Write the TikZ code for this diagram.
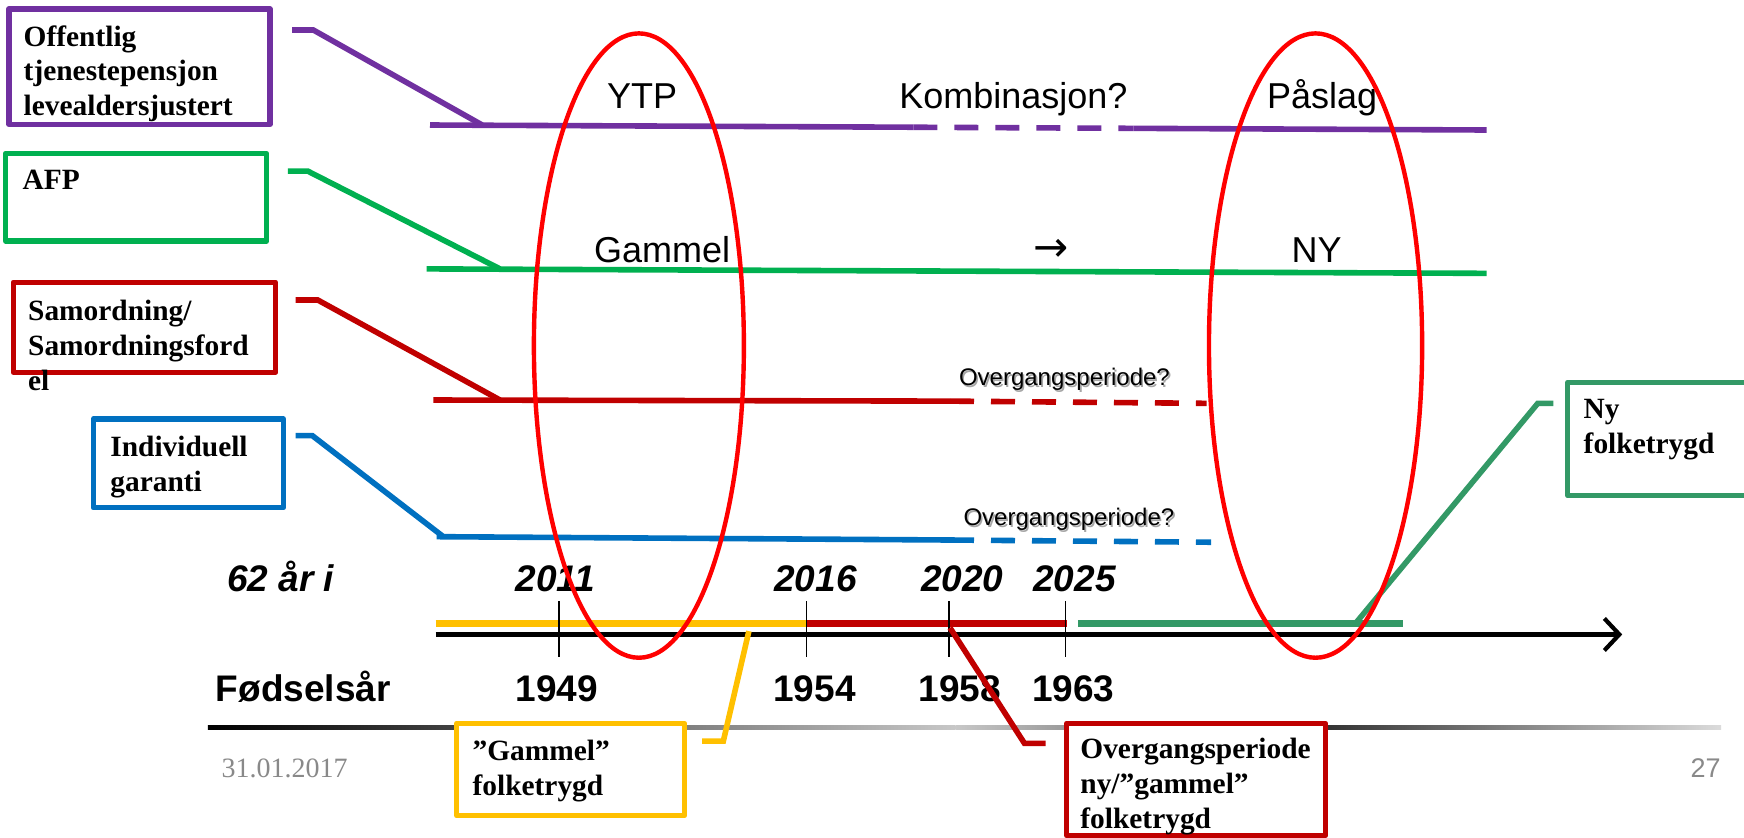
\documentclass[tikz,border=0pt]{standalone}
\usepackage{fontspec}
\setmainfont{Liberation Serif}
\setsansfont{Liberation Sans}
\newfontfamily\arrowfont{DejaVu Sans}
\usetikzlibrary{arrows.meta}
\definecolor{cpurple}{HTML}{7030A0}
\definecolor{cgreen}{HTML}{00B050}
\definecolor{cdred}{HTML}{C00000}
\definecolor{cblue}{HTML}{0070C0}
\definecolor{cyellow}{HTML}{FFC000}
\definecolor{csea}{HTML}{339966}
\definecolor{cellipse}{HTML}{FF0000}
\definecolor{cfoot}{HTML}{898989}
\begin{document}
\begin{tikzpicture}[x=0.5556pt,y=-0.5556pt,
  boxline/.style={line width=2.7pt, fill=white, line join=round},
  conn/.style={line width=2.8pt},
  dashline/.style={line width=2.8pt, dash pattern=on 12pt off 8.5pt},
  boxtext/.style={font=\bfseries\fontsize{14.7}{17.4}\selectfont, align=left, inner sep=0pt, anchor=north west},
  rowlbl/.style={font=\sffamily\fontsize{18}{20}\selectfont, inner sep=0pt, anchor=base},
  smalllbl/.style={font=\sffamily\fontsize{12}{14}\selectfont, inner sep=0pt, anchor=base},
  axislbl/.style={font=\sffamily\bfseries\fontsize{18.5}{20}\selectfont, inner sep=0pt, anchor=base},
  yearlbl/.style={font=\sffamily\bfseries\itshape\fontsize{18.5}{20}\selectfont, inner sep=0pt, anchor=base},
  ring/.style={draw=cellipse, line width=2.2pt},
  tickline/.style={line width=0.8pt},
  bar/.style={line width=3.6pt},
]
\useasboundingbox (0,0) rectangle (1569.6,753.4);
\clip (0,0) rectangle (1569.6,753.4);

% footer gradient line
\shade[left color=black, right color=black!22] (187,653.3) rectangle (860,656.7);
\shade[left color=black!22, right color=black!80] (860,653.3) rectangle (1193,656.7);
\shade[left color=black!80, right color=black!14] (1193,653.3) rectangle (1549,656.7);

% ---------- purple row ----------
\draw[boxline, draw=cpurple] (8,8) rectangle (243,112);
\node[boxtext] (tOff) at (21,22.5) {Offentlig\\tjenestepensjon\\levealdersjustert};
\coordinate (pa) at (263,27); \coordinate (pb) at (282,27); \coordinate (pc) at (434,112.5);
\draw[conn, cpurple] (pa) -- (pb) -- (pc);
\coordinate (pl0) at (387,112.5); \coordinate (pl1) at (822,114.5);
\coordinate (pl2) at (1020,115.5); \coordinate (pl3) at (1338,117);
\draw[conn, cpurple] (pl0) -- (pl1);
\draw[dashline, cpurple] (pl1) -- (pl2);
\draw[conn, cpurple] (pl2) -- (pl3);
\node[rowlbl] (ytp) at (578,98) {YTP};
\node[rowlbl] (komb) at (912,98) {Kombinasjon?};
\node[rowlbl] (paslag) at (1190,98) {Påslag};

% ---------- green AFP row ----------
\draw[boxline, draw=cgreen] (5,138) rectangle (240,217);
\node[boxtext] (tAFP) at (20,153) {AFP};
\coordinate (ga) at (259,154); \coordinate (gb) at (277,154); \coordinate (gc) at (450,242);
\draw[conn, cgreen] (ga) -- (gb) -- (gc);
\coordinate (gl0) at (384,242); \coordinate (gl1) at (1338,246);
\draw[conn, cgreen] (gl0) -- (gl1);
\node[rowlbl] (gammel) at (596,236) {Gammel};
\node[rowlbl, font=\fontsize{21}{22}\selectfont] (arr) at (946,235) {\arrowfont →};
\node[rowlbl] (ny) at (1185,236) {NY};

% ---------- red row ----------
\draw[boxline, draw=cdred] (12,254) rectangle (248,335);
\node[boxtext] (tSam) at (25,270) {Samordning/\\Samordningsford\\el};
\coordinate (ra) at (266,270); \coordinate (rb) at (286,270); \coordinate (rc) at (450,360);
\draw[conn, cdred] (ra) -- (rb) -- (rc);
\coordinate (rl0) at (390,360); \coordinate (rl1) at (855,361); \coordinate (rl2) at (1086,363);
\draw[conn, cdred] (rl0) -- (rl1);
\draw[dashline, cdred] (rl1) -- (rl2);
\node[smalllbl, text=black!35] (ov1s) at (959.5,348.5) {Overgangsperiode?};
\node[smalllbl] (ov1) at (958,347) {Overgangsperiode?};

% ---------- blue row ----------
\draw[boxline, draw=cblue] (84,377) rectangle (255,457);
\node[boxtext] (tInd) at (99,392) {Individuell\\garanti};
\coordinate (ba) at (266,392); \coordinate (bb) at (281,392); \coordinate (bc) at (399,483);
\draw[conn, cblue] (ba) -- (bb) -- (bc);
\coordinate (bl0) at (393,483); \coordinate (bl1) at (855,486); \coordinate (bl2) at (1090,488);
\draw[conn, cblue] (bl0) -- (bl1);
\draw[dashline, cblue] (bl1) -- (bl2);
\node[smalllbl, text=black!35] (ov2s) at (963.5,474.5) {Overgangsperiode?};
\node[smalllbl] (ov2) at (962,473) {Overgangsperiode?};

% ---------- time axis ----------
\coordinate (ax0) at (392,571); \coordinate (ax1) at (1460,571);
\draw[line width=2.1pt, -{Straight Barb[length=7.5pt,width=16pt,line width=2.1pt]}] (ax0) -- (ax1);
\coordinate (y0) at (392,561); \coordinate (y1) at (726,561);
\coordinate (d1) at (960,561);
\coordinate (s0) at (970,561); \coordinate (s1) at (1263,561);
\draw[bar, cyellow] (y0) -- (y1);
\draw[bar, cdred] (y1) -- (d1);
\draw[bar, csea] (s0) -- (s1);
\foreach \tx/\nm in {503/k1, 726/k2, 854/k3, 959/k4}{
  \coordinate (\nm a) at (\tx,541); \coordinate (\nm b) at (\tx,591);
  \draw[tickline] (\nm a) -- (\nm b);
}

\node[yearlbl, anchor=base west] (age) at (204,532) {62 år i};
\node[yearlbl] (y2011) at (500,532) {2011};
\node[yearlbl] (y2016) at (734,532) {2016};
\node[yearlbl] (y2020) at (866,532) {2020};
\node[yearlbl] (y2025) at (967,532) {2025};
\node[axislbl, anchor=base west] (fods) at (194,631) {Fødselsår};
\node[axislbl] (b1949) at (501,631) {1949};
\node[axislbl] (b1954) at (733,631) {1954};
\node[axislbl] (b1958) at (864,631) {1958};
\node[axislbl] (b1963) at (966,631) {1963};

% ---------- bottom callouts ----------
\coordinate (ya) at (674,568); \coordinate (yb) at (651,667); \coordinate (yc) at (632,667);
\draw[conn, cyellow] (ya) -- (yb) -- (yc);
\draw[boxline, draw=cyellow] (411,651) rectangle (616,734);
\node[boxtext] (tGam) at (425,666) {”Gammel”\\folketrygd};

\coordinate (oa) at (855,565); \coordinate (ob) at (922,669); \coordinate (oc) at (941,669);
\draw[conn, cdred] (oa) -- (ob) -- (oc);
\draw[boxline, draw=cdred] (960,651) rectangle (1193,752);
\node[boxtext] (tOvg) at (972,664) {Overgangsperiode\\ny/”gammel”\\folketrygd};

\coordinate (na) at (1398,363); \coordinate (nb) at (1384,363); \coordinate (nc) at (1220,561);
\draw[conn, csea] (na) -- (nb) -- (nc);
\draw[boxline, draw=csea] (1411,344) rectangle (1620,446);
\node[boxtext] (tNy) at (1425,359) {Ny\\folketrygd};

% ---------- ellipses ----------
\draw[ring] (575,311) ellipse [x radius=52.5pt, y radius=156.1pt];
\draw[ring] (1184,311) ellipse [x radius=53.3pt, y radius=156.1pt];

% ---------- footer ----------
\node[font=\fontsize{14}{16}\selectfont, text=cfoot, inner sep=0pt, anchor=base west] (date) at (199,700) {31.01.2017};
\node[font=\sffamily\fontsize{13.5}{16}\selectfont, text=cfoot, inner sep=0pt, anchor=base] (pg) at (1535,700) {27};
\end{tikzpicture}
\end{document}
